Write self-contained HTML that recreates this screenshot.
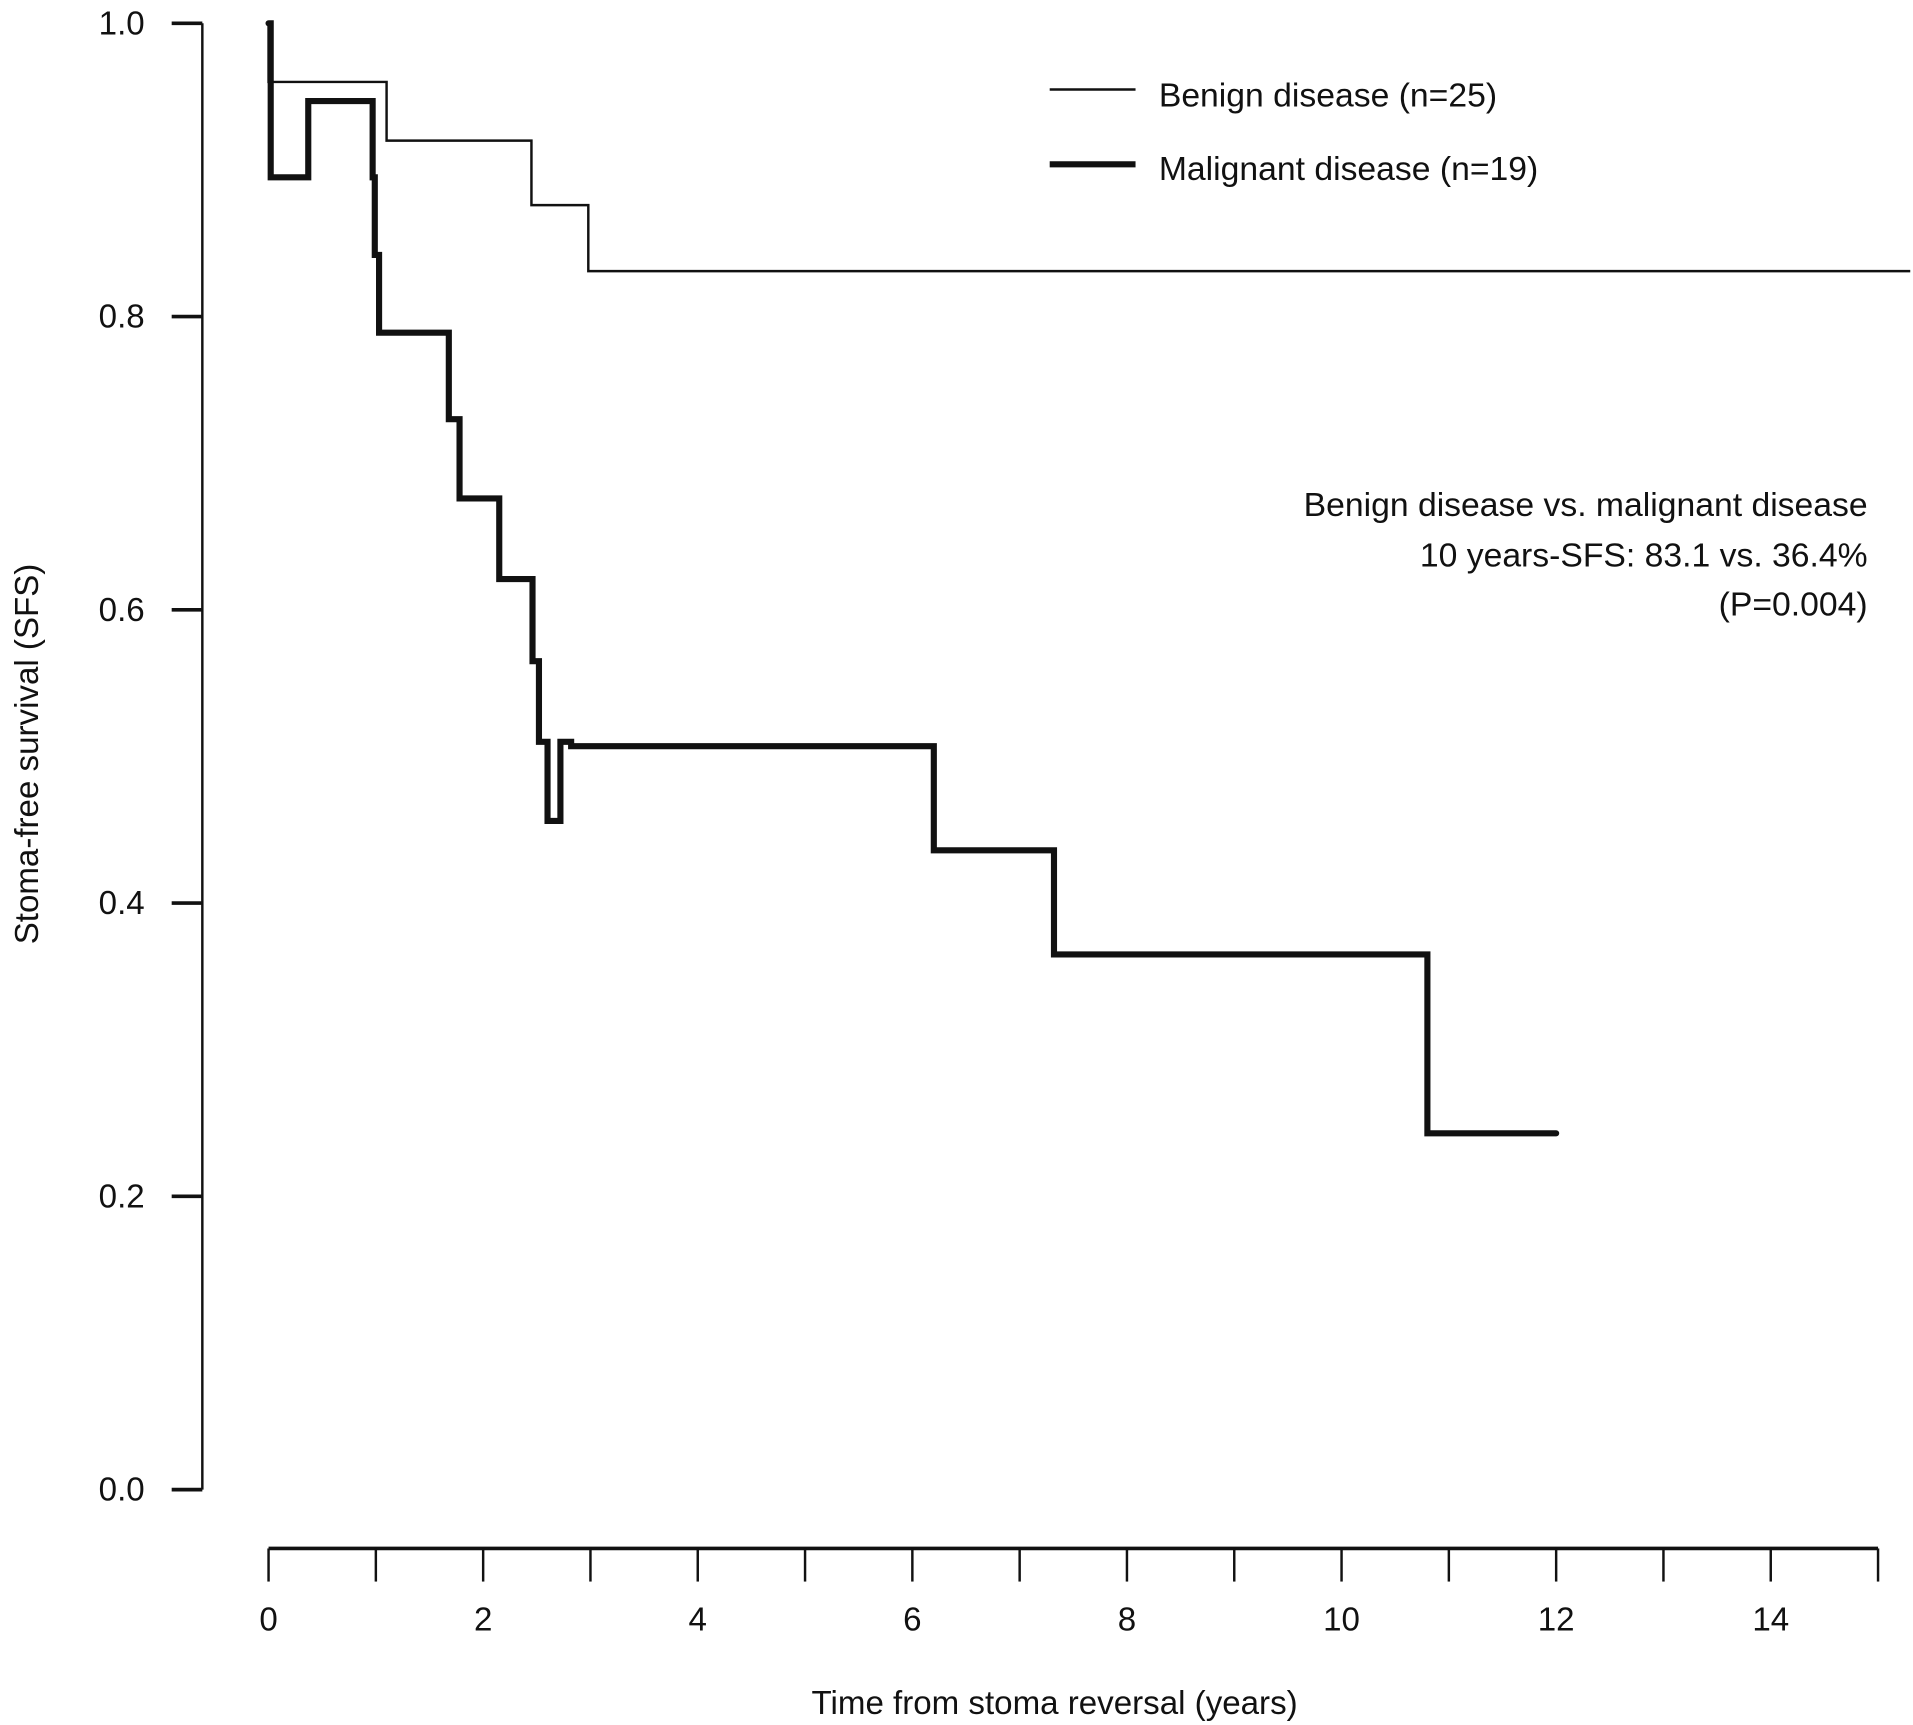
<!DOCTYPE html>
<html><head><meta charset="utf-8"><style>
html,body{margin:0;padding:0;background:#fff;}
svg{display:block;}
text{font-family:"Liberation Sans",sans-serif;fill:#111;}
</style></head><body>
<svg id="chart" width="1913" height="1725" viewBox="0 0 1560 1407" preserveAspectRatio="none" xmlns="http://www.w3.org/2000/svg">
<g id="axes"></g>
<g id="series"></g>
<g>
<line x1="856" y1="73" x2="926" y2="73" stroke="#111" stroke-width="2"/>
<text x="945" y="87" font-size="27.5">Benign disease (n=25)</text>
<line x1="856" y1="134" x2="926" y2="134" stroke="#111" stroke-width="5"/>
<text x="945" y="147" font-size="27.5">Malignant disease (n=19)</text>
</g>
<g font-size="27.5" text-anchor="end">
<text x="1523" y="421">Benign disease vs. malignant disease</text>
<text x="1523" y="462">10 years-SFS: 83.1 vs. 36.4%</text>
<text x="1523" y="502">(P=0.004)</text>
</g>
<text x="860" y="1398" font-size="27" text-anchor="middle">Time from stoma reversal (years)</text>
<text transform="translate(31,615) rotate(-90)" font-size="27" text-anchor="middle">Stoma-free survival (SFS)</text>
</svg>
<script>
const yTicks = [0, 0.2, 0.4, 0.6, 0.8, 1.0];
const yTickLabels = ["0.0", "0.2", "0.4", "0.6", "0.8", "1.0"];
const xTicks = [0,1,2,3,4,5,6,7,8,9,10,11,12,13,14,15];
const xTickLabels = ["0","","2","","4","","6","","8","","10","","12","","14",""];
const benignTimes = [0, 1.1, 2.45, 2.98, 15.3];
const benignValues = [0.96, 0.92, 0.876, 0.831, 0.831];
const malignantTimes = [0, 0.02, 0.37, 0.97, 0.99, 1.03, 1.68, 1.78, 2.15, 2.46, 2.52, 2.6, 2.72, 2.82, 6.2, 7.32, 10.8, 12.0];
const malignantValues = [1.0, 0.895, 0.947, 0.895, 0.842, 0.789, 0.73, 0.676, 0.621, 0.565, 0.51, 0.456, 0.51, 0.507, 0.436, 0.365, 0.243, 0.243];

const NS = "http://www.w3.org/2000/svg";
function xs(t){ return 219 + t * 87.5; }
function ys(v){ return 1215 - v * 1196; }
function mk(tag, attrs){ const e = document.createElementNS(NS, tag); for (const k in attrs) e.setAttribute(k, attrs[k]); return e; }
const axes = document.getElementById('axes');
const series = document.getElementById('series');

let yl = mk('line', {x1:165, y1:ys(1), x2:165, y2:ys(0), stroke:'#111', 'stroke-width':2});


axes.appendChild(yl);
yTicks.forEach((v, i) => {
  const t = mk('line', {x1:140, y1:ys(v), x2:165, y2:ys(v), stroke:'#111', 'stroke-width':3});
  
  
  axes.appendChild(t);
  const l = mk('text', {x:118, y:ys(v) + 9, 'font-size':27, 'text-anchor':'end'});
  l.textContent = yTickLabels[i];
  
  
  axes.appendChild(l);
});
let xl = mk('line', {x1:xs(0), y1:1263, x2:xs(15), y2:1263, stroke:'#111', 'stroke-width':3});


axes.appendChild(xl);
xTicks.forEach((v, i) => {
  const t = mk('line', {x1:xs(v), y1:1263, x2:xs(v), y2:1290, stroke:'#111', 'stroke-width':2});
  
  
  axes.appendChild(t);
  if (xTickLabels[i]) {
    const l = mk('text', {x:xs(v), y:1330, 'font-size':27, 'text-anchor':'middle'});
    l.textContent = xTickLabels[i];
    
    
    axes.appendChild(l);
  }
});
function stepPath(times, vals, start){
  let d = 'M' + xs(times[0]) + ',' + ys(start);
  for (let i = 0; i < times.length; i++) {
    d += ' L' + xs(times[i]) + ',' + ys(i === 0 ? start : vals[i-1]);
    d += ' L' + xs(times[i]) + ',' + ys(vals[i]);
  }
  return d;
}
const bp = mk('path', {d: stepPath(benignTimes, benignValues, 1.0), fill:'none', stroke:'#111', 'stroke-width':2});


series.appendChild(bp);
const mp = mk('path', {d: stepPath(malignantTimes, malignantValues, 1.0), fill:'none', stroke:'#111', 'stroke-width':5, 'stroke-linejoin':'miter', 'stroke-linecap':'round'});


series.appendChild(mp);
</script>
</body></html>
